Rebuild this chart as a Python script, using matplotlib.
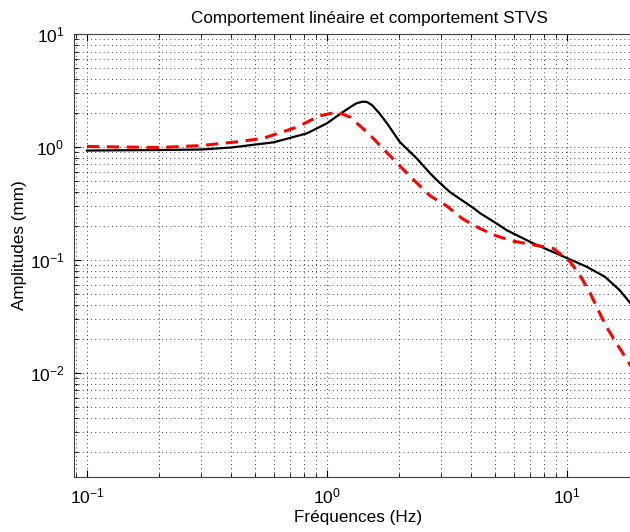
import numpy as np
import matplotlib
matplotlib.use('Agg')
import matplotlib.pyplot as plt

plt.rcParams['font.family'] = ['Liberation Sans', 'DejaVu Sans']
plt.rcParams['mathtext.fontset'] = 'custom'
plt.rcParams['mathtext.rm'] = 'Liberation Sans'

# comportement linéaire (trait plein noir)
freq_lin = [0.1, 0.2, 0.3, 0.4, 0.6, 0.825, 1.0, 1.17, 1.27, 1.33, 1.41, 1.47, 1.54, 1.65,
            1.78, 2.01, 2.37, 2.69, 2.87, 3.25, 4.06, 4.34, 5.1, 5.6, 7.2, 10.0, 12.1,
            14.4, 16.6, 18.3, 22.0]
amp_lin = [0.93, 0.94, 0.95, 0.99, 1.10, 1.32, 1.62, 2.05, 2.30, 2.44, 2.52, 2.50, 2.35, 2.0,
           1.62, 1.11, 0.79, 0.585, 0.51, 0.40, 0.29, 0.26, 0.21, 0.184, 0.141, 0.104, 0.087,
           0.071, 0.054, 0.042, 0.025]

# comportement STVS (tirets rouges)
freq_stvs = [0.1, 0.2, 0.3, 0.42, 0.54, 0.75, 0.93, 1.1, 1.25, 1.51, 1.77, 2.22, 2.69,
             3.16, 3.69, 4.34, 5.1, 5.96, 7.7, 8.8, 10.3, 11.3, 12.5, 13.5, 14.6,
             16.1, 18.0, 22.0]
amp_stvs = [1.01, 0.99, 1.03, 1.11, 1.19, 1.5, 1.88, 2.04, 1.84, 1.28, 0.90, 0.55, 0.37,
            0.30, 0.23, 0.19, 0.163, 0.147, 0.133, 0.126, 0.097, 0.074, 0.051, 0.036, 0.0257,
            0.0183, 0.0126, 0.0063]

fig = plt.figure(figsize=(6.3, 5.32), dpi=100)
ax = fig.add_axes([74/630, 1 - 477/532, (650 - 74)/630, (477 - 34)/532])

ax.loglog(freq_lin, amp_lin, color='black', linewidth=1.6)
ax.loglog(freq_stvs, amp_stvs, color='red', linewidth=2.2, linestyle=(0, (4, 2.5)))

ax.set_xlim(0.0883, 22.2)
ax.set_ylim(0.0012, 10)

ax.grid(True, which='both', color='black', linestyle=(0, (1, 4)), linewidth=0.6)
ax.tick_params(which='both', direction='in', top=True, right=True, labelsize=12.5, pad=7)
ax.tick_params(which='major', length=5)
ax.tick_params(which='minor', length=3)
for s in ax.spines.values():
    s.set_color('#404040')

ax.set_title('Comportement linéaire et comportement STVS', fontsize=12.3,
             x=(369 - 74)/576, pad=8)
ax.set_xlabel('Fréquences (Hz)', fontsize=12.3)
ax.set_ylabel('Amplitudes (mm)', fontsize=12.3)
ax.xaxis.set_label_coords((358 - 74)/576, -0.0745)
ax.yaxis.set_label_coords(-0.0816, 0.524)

fig.savefig('out.png', dpi=100)
